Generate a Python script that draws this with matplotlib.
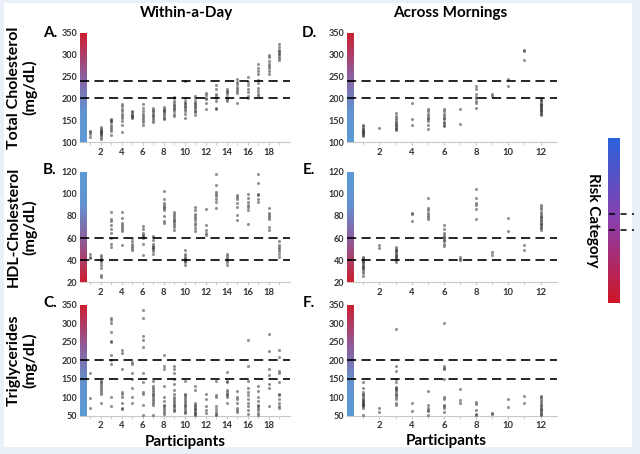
import numpy as np
import matplotlib
matplotlib.use('Agg')
import matplotlib.pyplot as plt
from matplotlib.colors import LinearSegmentedColormap
from matplotlib.lines import Line2D
from matplotlib.patches import Rectangle

plt.rcParams['font.family'] = ['Lato', 'DejaVu Sans']
plt.rcParams['font.weight'] = 'bold'

# Within-a-Day readings, one list per participant (1-19)
tc_day = [[112, 118, 122, 125],
          [108, 112, 115, 118, 120, 122, 124, 126, 128, 130, 135],
          [115, 125, 130, 135, 140, 145, 148, 150, 153],
          [122, 140, 148, 155, 160, 165, 170, 175, 182, 188],
          [155, 158, 160, 162, 165, 168, 172],
          [140, 145, 150, 155, 160, 165, 170, 178, 187],
          [145, 150, 155, 160, 163, 166, 170, 173, 178],
          [153, 155, 160, 165, 168, 170, 173, 176, 180],
          [160, 165, 170, 175, 178, 182, 186, 190, 195, 200, 203],
          [155, 165, 170, 175, 180, 183, 187, 190, 195, 200, 240],
          [163, 168, 172, 176, 180, 183, 187, 190, 195, 200, 205],
          [175, 190, 198, 202, 208, 212],
          [176, 178, 195, 200, 205, 210, 222, 230],
          [195, 198, 200, 203, 210, 215, 218, 222],
          [190, 212, 218, 222, 227, 232, 238, 245],
          [200, 205, 215, 222, 230, 238, 248],
          [205, 210, 218, 225, 235, 243, 255, 262, 270, 278],
          [255, 262, 270, 275, 278, 285, 295, 300],
          [288, 293, 298, 302, 305, 308, 312, 318, 325]]

hdl_day = [[42, 43, 46],
           [25, 27, 33, 36, 38, 40, 40, 41, 43, 45],
           [52, 55, 60, 65, 68, 72, 75, 77, 84],
           [54, 66, 68, 70, 72, 74, 78, 84],
           [49, 51, 53, 55, 57, 60],
           [45, 55, 60, 62, 63, 65, 68, 71],
           [46, 48, 50, 51, 52, 53, 55, 58, 62],
           [74, 75, 80, 85, 87, 88, 90, 92, 95, 103],
           [67, 70, 72, 74, 75, 76, 78, 80, 82, 84],
           [36, 38, 39, 40, 41, 42, 44, 46, 49],
           [66, 69, 72, 74, 76, 78, 80, 82, 85, 88],
           [63, 65, 67, 72, 86],
           [87, 93, 95, 98, 100, 102, 108, 118],
           [36, 38, 40, 42, 44, 46],
           [76, 81, 88, 92, 95, 97, 99],
           [73, 85, 88, 90, 93, 96, 100],
           [93, 95, 99, 100, 110, 118],
           [67, 70, 77, 79, 81, 83, 87],
           [43, 46, 48, 50, 52, 54, 57]]

tg_day = [[72, 97, 165],
          [85, 110, 115, 120, 125, 130, 135, 140, 145],
          [75, 100, 190, 200, 215, 250, 252, 275, 300, 308, 313],
          [68, 70, 85, 100, 110, 115, 175, 220, 228],
          [83, 100, 125, 150, 165, 190, 195],
          [52, 80, 110, 115, 140, 165, 235, 255, 265, 315, 335],
          [52, 80, 85, 90, 95, 100, 105, 110, 115, 120, 125, 130, 145],
          [55, 60, 65, 70, 75, 80, 90, 100, 130, 175, 185, 215],
          [62, 65, 70, 75, 80, 85, 90, 95, 100, 110, 120, 135, 150, 165, 175, 185],
          [57, 60, 65, 70, 75, 80, 85, 90, 95, 100, 105, 110, 145],
          [52, 55, 58, 60, 65, 68, 72, 75, 80, 85, 120, 130],
          [57, 65, 75, 95, 110],
          [52, 55, 60, 68, 75, 100, 105, 145],
          [85, 100, 105, 110, 115, 120, 140, 145, 168],
          [60, 65, 70, 85, 95, 100, 117],
          [55, 65, 75, 85, 95, 105, 115, 125, 145, 185, 255],
          [52, 58, 65, 70, 75, 80, 90, 100, 118, 130],
          [75, 125, 135, 160, 175, 225, 272],
          [70, 75, 85, 95, 105, 110, 140, 165, 170, 210, 228]]

# Across Mornings readings, participants 1-12
tc_morn = [[113, 116, 118, 120, 122, 124, 126, 128, 130, 133, 136, 140],
           [132],
           [128, 130, 133, 135, 138, 140, 143, 146, 150, 155, 160, 166],
           [140, 152, 189],
           [130, 140, 148, 152, 155, 160, 165, 170, 176],
           [136, 140, 143, 147, 152, 155, 160, 165, 170, 175],
           [142, 176],
           [178, 190, 195, 200, 203, 210, 222, 229],
           [205, 210],
           [229, 245],
           [287, 308, 312],
           [163, 165, 167, 170, 172, 174, 176, 178, 180, 182, 184, 186, 188, 190, 193, 196, 199]]

hdl_morn = [[26, 28, 30, 32, 33, 34, 35, 36, 37, 38, 39, 40, 42, 43],
            [51, 54],
            [38, 40, 42, 43, 44, 45, 46, 47, 48, 49, 50, 52],
            [75, 82, 83],
            [77, 79, 81, 83, 85, 87, 96],
            [53, 55, 57, 58, 60, 61, 63, 65, 68, 72],
            [40, 41, 43],
            [77, 86, 90, 92, 96, 104],
            [45, 47],
            [66, 78],
            [49, 54],
            [67, 69, 70, 72, 73, 74, 75, 76, 78, 79, 80, 82, 84, 86, 88, 90]]

tg_morn = [[52, 72, 75, 78, 80, 82, 85, 88, 90, 92, 95, 100, 105, 110, 115, 125, 142],
           [61, 72],
           [80, 83, 95, 100, 105, 110, 115, 120, 122, 125, 128, 140, 148, 170, 185, 283],
           [64, 85],
           [52, 62, 65, 72, 78, 117],
           [60, 72, 75, 78, 95, 100, 148, 175, 180, 185, 300],
           [85, 93, 121],
           [52, 55, 65, 82, 88],
           [54, 58],
           [74, 94],
           [85, 103],
           [52, 55, 58, 62, 65, 68, 72, 75, 80, 85, 90, 95, 100, 103]]

tc_ticks = [100, 150, 200, 250, 300, 350]
hdl_ticks = [20, 40, 60, 80, 100, 120]
tg_ticks = [50, 100, 150, 200, 250, 300, 350]
tc_cut = [200, 240]
hdl_cut = [40, 60]
tg_cut = [150, 200]

W, H = 640, 454
fig = plt.figure(figsize=(6.4, 4.54), dpi=100)
fig.patch.set_facecolor('#e9f0f7')
fig.patches.append(Rectangle((4 / W, 1 - 447 / H), 628 / W, 444 / H,
                             transform=fig.transFigure, facecolor='white',
                             edgecolor='none', zorder=-5))

side_cmap = LinearSegmentedColormap.from_list(
    'risk', [(0, '#5b9bd5'), (0.3, '#6393cf'), (0.62, '#8f5c9c'), (1, '#cc1f2f')])
big_cmap = LinearSegmentedColormap.from_list('risk2', ['#2a63dc', '#8b3fae', '#cf1626'])


def px_axes(x0, y0, x1, y1):
    ax = fig.add_axes([x0 / W, 1 - y1 / H, (x1 - x0) / W, (y1 - y0) / H])
    ax.set_zorder(2)
    return ax


def panel(box, data, ticks, cuts, nmax, bar_w, flip):
    ax = px_axes(*box)
    lo, hi = ticks[0], ticks[-1]
    grad = np.linspace(0, 1, 256).reshape(-1, 1)
    cm = side_cmap.reversed() if flip else side_cmap
    ax.imshow(grad, extent=[0, bar_w, lo, hi], origin='lower', cmap=cm,
              aspect='auto', zorder=1)
    for i, vals in enumerate(data):
        ax.scatter(np.full(len(vals), i + 1), vals, s=5, color='#3a3a3a',
                   alpha=0.55, linewidths=0, zorder=3)
    for c in cuts:
        ax.axhline(c, color='black', lw=1.2, dashes=(5.5, 3.2), zorder=4)
    ax.set_xlim(0, nmax + 1)
    ax.set_ylim(lo, hi)
    ax.set_yticks(ticks)
    ax.set_xticks(range(2, nmax + 1, 2))
    ax.set_xticks(range(1, nmax + 1), minor=True)
    for s in ['top', 'right', 'left']:
        ax.spines[s].set_visible(False)
    ax.spines['bottom'].set_color('#c8c8c8')
    ax.spines['bottom'].set_linewidth(0.8)
    ax.tick_params(axis='y', length=0, pad=2, labelsize=6.5, labelcolor='#333333')
    ax.tick_params(axis='x', which='both', length=2, color='#c8c8c8', pad=2,
                   labelsize=6.8, labelcolor='#333333')
    for t in ax.get_xticklabels() + ax.get_yticklabels():
        t.set_fontweight('bold')
    ax.set_facecolor('none')
    return ax


rows = [(33, 142), (171.7, 282.3), (304.7, 415.7)]
left = (79.7, 290)
right = (347.2, 556.7)
day_sets = [(tc_day, tc_ticks, tc_cut, False, 'A.'),
            (hdl_day, hdl_ticks, hdl_cut, True, 'B.'),
            (tg_day, tg_ticks, tg_cut, False, 'C.')]
morn_sets = [(tc_morn, tc_ticks, tc_cut, False, 'D.'),
             (hdl_morn, hdl_ticks, hdl_cut, True, 'E.'),
             (tg_morn, tg_ticks, tg_cut, False, 'F.')]
ylabels = ['Total Cholesterol\n(mg/dL)', 'HDL-Cholesterol\n(mg/dL)', 'Triglycerides\n(mg/dL)']
letter_y = [33, 170, 303]

for r, (y0, y1) in enumerate(rows):
    d, tk, ct, fl, let = day_sets[r]
    panel((left[0], y0, left[1], y1), d, tk, ct, 19, 0.63, fl)
    fig.text(50 / W, 1 - letter_y[r] / H, let, ha='center', va='center', fontsize=11)
    fig.text(22 / W, 1 - (y0 + y1) / 2 / H, ylabels[r], rotation=90, ha='center',
             va='center', fontsize=11.5, linespacing=1.15)
    d, tk, ct, fl, let = morn_sets[r]
    panel((right[0], y0, right[1], y1), d, tk, ct, 12, 0.42, fl)
    fig.text(309 / W, 1 - letter_y[r] / H, let, ha='center', va='center', fontsize=11)

fig.text(186 / W, 1 - 13 / H, 'Within-a-Day', ha='center', va='center', fontsize=11)
fig.text(450 / W, 1 - 13 / H, 'Across Mornings', ha='center', va='center', fontsize=11)
fig.text(185 / W, 1 - 442 / H, 'Participants', ha='center', va='center', fontsize=11)
fig.text(446 / W, 1 - 441 / H, 'Participants', ha='center', va='center', fontsize=11)

# risk category bar on the right
cax = px_axes(608.3, 138.3, 620, 303.3)
cax.imshow(np.linspace(0, 1, 256).reshape(-1, 1), cmap=big_cmap, aspect='auto',
           extent=[0, 1, 0, 1])
cax.set_axis_off()
for yy in [214, 230]:
    fig.add_artist(Line2D([609 / W, 634 / W], [1 - yy / H, 1 - yy / H], color='black',
                          lw=1.1, dashes=(4, 3.5), transform=fig.transFigure,
                          zorder=5))
fig.text(593 / W, 1 - 220 / H, 'Risk Category', rotation=270, ha='center',
         va='center', fontsize=11)

fig.savefig('out.png', dpi=100)
